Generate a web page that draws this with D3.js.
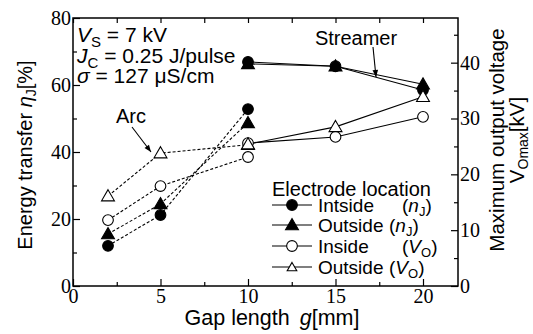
<!DOCTYPE html>
<html lang="en">
<head>
<meta charset="utf-8">
<title>Energy transfer vs gap length</title>
<script src="https://d3js.org/d3.v7.min.js"></script>
<style>
  body { margin: 0; background: #fff; }
  svg text { font-family: "Liberation Sans", Arial, sans-serif; fill: #000; }
  .tick text { font-family: "Liberation Serif", "Times New Roman", serif; font-size: 20px; }
  .axis path { stroke: none; }
  .axis line { stroke: #000; stroke-width: 1.2; }
</style>
</head>
<body>
<script>
// gap length [mm] for the two discharge regimes
const gapArc = [2, 5, 10];
const gapStreamer = [10, 15, 20];

// energy transfer eta_J [%] (left axis)
const etaInsideArc = [12, 21.2, 52.8];
const etaOutsideArc = [15.5, 24.5, 48.7];
const etaInsideStreamer = [66.9, 65.6, 58.5];
const etaOutsideStreamer = [66.3, 65.6, 60.2];

// maximum output voltage V_Omax [kV] (right axis)
const voInsideArc = [11.8, 17.9, 23.1];
const voOutsideArc = [16.1, 23.8, 25.3];
const voInsideStreamer = [25.6, 26.7, 30.3];
const voOutsideStreamer = [25.4, 28.5, 33.9];

// tick values
const xTicks = [0, 5, 10, 15, 20];
const xMinor = [2.5, 7.5, 12.5, 17.5];
const yLTicks = [0, 20, 40, 60, 80];
const yLMinor = [10, 30, 50, 70];
const yRTicks = [0, 10, 20, 30, 40];
const yRMinor = [5, 15, 25, 35, 45];

const W = 533, H = 334;
const pL = 73, pR = 458, pT = 18, pB = 286;

const svg = d3.select("body").append("svg")
  .attr("width", W).attr("height", H);

const x = d3.scaleLinear().domain([0, 22]).range([pL, pR]);
const yL = d3.scaleLinear().domain([0, 80]).range([pB, pT]);
const yR = d3.scaleLinear().domain([0, 48]).range([pB, pT]);

// axes, ticks pointing inward
svg.append("g").attr("class", "axis")
  .attr("transform", `translate(0,${pB})`)
  .call(d3.axisBottom(x).tickValues(xTicks).tickSizeInner(-7).tickSizeOuter(0).tickPadding(3));
svg.append("g").attr("class", "axis")
  .attr("transform", `translate(0,${pB})`)
  .call(d3.axisBottom(x).tickValues(xMinor).tickSizeInner(-4).tickSizeOuter(0).tickFormat(""));
svg.append("g").attr("class", "axis")
  .attr("transform", `translate(0,${pT})`)
  .call(d3.axisTop(x).tickValues(xTicks.concat(xMinor)).tickSizeInner(-5).tickSizeOuter(0).tickFormat(""));

svg.append("g").attr("class", "axis")
  .attr("transform", `translate(${pL},0)`)
  .call(d3.axisLeft(yL).tickValues(yLTicks).tickSizeInner(-7).tickSizeOuter(0).tickPadding(2));
svg.append("g").attr("class", "axis")
  .attr("transform", `translate(${pL},0)`)
  .call(d3.axisLeft(yL).tickValues(yLMinor).tickSizeInner(-4).tickSizeOuter(0).tickFormat(""));

svg.append("g").attr("class", "axis")
  .attr("transform", `translate(${pR},0)`)
  .call(d3.axisRight(yR).tickValues(yRTicks).tickSizeInner(-7).tickSizeOuter(0).tickPadding(2));
svg.append("g").attr("class", "axis")
  .attr("transform", `translate(${pR},0)`)
  .call(d3.axisRight(yR).tickValues(yRMinor).tickSizeInner(-4).tickSizeOuter(0).tickFormat(""));

// plot frame
svg.append("rect")
  .attr("x", pL).attr("y", pT)
  .attr("width", pR - pL).attr("height", pB - pT)
  .attr("fill", "none").attr("stroke", "#000").attr("stroke-width", 1.5);

// series
const series = [
  { gx: gapArc, v: etaInsideArc, y: yL, dash: "3,2", sym: "circle", fill: "#000" },
  { gx: gapArc, v: etaOutsideArc, y: yL, dash: "3,2", sym: "triangle", fill: "#000" },
  { gx: gapArc, v: voInsideArc, y: yR, dash: "3,2", sym: "circle", fill: "#fff" },
  { gx: gapArc, v: voOutsideArc, y: yR, dash: "3,2", sym: "triangle", fill: "#fff" },
  { gx: gapStreamer, v: etaInsideStreamer, y: yL, dash: null, sym: "circle", fill: "#000" },
  { gx: gapStreamer, v: etaOutsideStreamer, y: yL, dash: null, sym: "triangle", fill: "#000" },
  { gx: gapStreamer, v: voInsideStreamer, y: yR, dash: null, sym: "circle", fill: "#fff" },
  { gx: gapStreamer, v: voOutsideStreamer, y: yR, dash: null, sym: "triangle", fill: "#fff" }
];

const symPath = {
  circle: d3.symbol().type(d3.symbolCircle).size(90),
  triangle: d3.symbol().type(d3.symbolTriangle).size(72)
};

series.forEach(s => {
  const pts = s.gx.map((g, i) => [g, s.v[i]]);
  svg.append("path")
    .datum(pts)
    .attr("fill", "none").attr("stroke", "#000").attr("stroke-width", 1.1)
    .attr("stroke-dasharray", s.dash)
    .attr("d", d3.line().x(d => x(d[0])).y(d => s.y(d[1])));
});
series.forEach(s => {
  const pts = s.gx.map((g, i) => [g, s.v[i]]);
  svg.selectAll(null).data(pts).enter().append("path")
    .attr("transform", d => `translate(${x(d[0])},${s.y(d[1]) + (s.sym === "triangle" ? 1 : 0)})`)
    .attr("d", symPath[s.sym]())
    .attr("fill", s.fill).attr("stroke", "#000").attr("stroke-width", 1.1);
});

// arrow marker
svg.append("defs").append("marker")
  .attr("id", "arr").attr("viewBox", "0 0 10 10")
  .attr("refX", 10).attr("refY", 5)
  .attr("markerWidth", 9).attr("markerHeight", 7)
  .attr("markerUnits", "userSpaceOnUse")
  .attr("orient", "auto")
  .append("path").attr("d", "M0,1 L10,5 L0,9 Z").attr("fill", "#000");

// annotations
svg.append("text").attr("x", 356).attr("y", 45).attr("text-anchor", "middle")
  .style("font-size", "20px").text("Streamer");
svg.append("line").attr("x1", 373).attr("y1", 47).attr("x2", 376).attr("y2", 77)
  .attr("stroke", "#000").attr("stroke-width", 1.1).attr("marker-end", "url(#arr)");

svg.append("text").attr("x", 131).attr("y", 123).attr("text-anchor", "middle")
  .style("font-size", "20px").text("Arc");
svg.append("line").attr("x1", 132).attr("y1", 127).attr("x2", 151).attr("y2", 152)
  .attr("stroke", "#000").attr("stroke-width", 1.1).attr("marker-end", "url(#arr)");

// condition box
const cond = svg.append("g").style("font-size", "21px");
let t = cond.append("text").attr("x", 77).attr("y", 42);
t.append("tspan").style("font-style", "italic").text("V");
t.append("tspan").attr("dy", 5).style("font-size", "15px").text("S");
t.append("tspan").attr("dy", -5).text(" = 7 kV");
t = cond.append("text").attr("x", 77).attr("y", 63);
t.append("tspan").style("font-style", "italic").text("J");
t.append("tspan").attr("dy", 5).style("font-size", "15px").text("C");
t.append("tspan").attr("dy", -5).text(" = 0.25 J/pulse");
t = cond.append("text").attr("x", 77).attr("y", 83);
t.append("tspan").style("font-style", "italic").text("σ");
t.append("tspan").text(" = 127 μS/cm");

// legend
const lg = svg.append("g").style("font-size", "19px");
lg.append("text").attr("x", 272).attr("y", 196).style("font-size", "20px").text("Electrode location");
const legRows = [
  { name: "Intside", sym: "circle", fill: "#000", v: "n", sub: "J", tab: true },
  { name: "Outside", sym: "triangle", fill: "#000", v: "n", sub: "J", tab: false },
  { name: "Inside", sym: "circle", fill: "#fff", v: "V", sub: "O", tab: true },
  { name: "Outside", sym: "triangle", fill: "#fff", v: "V", sub: "O", tab: false }
];
const legY = [205, 225, 246, 267];
legRows.forEach((r, i) => {
  const cy = legY[i];
  lg.append("line").attr("x1", 272).attr("x2", 312).attr("y1", cy).attr("y2", cy)
    .attr("stroke", "#000").attr("stroke-width", 1.1);
  lg.append("path")
    .attr("transform", `translate(292,${cy + (r.sym === "triangle" ? 1 : 0)})`)
    .attr("d", (r.fill === "#fff" && r.sym === "triangle")
      ? d3.symbol().type(d3.symbolTriangle).size(40)()
      : symPath[r.sym]())
    .attr("fill", r.fill).attr("stroke", "#000").attr("stroke-width", 1.1);
  lg.append("text").attr("x", 318).attr("y", cy + 7).text(r.name);
  const p = lg.append("text").attr("x", r.tab ? 402 : 389).attr("y", cy + 7);
  p.append("tspan").text("(");
  p.append("tspan").style("font-style", "italic").text(r.v);
  p.append("tspan").attr("dy", 4).style("font-size", "13px").text(r.sub);
  p.append("tspan").attr("dy", -4).text(")");
});

// axis titles
const xt = svg.append("text").attr("x", 272).attr("y", 325).attr("text-anchor", "middle")
  .style("font-size", "21.5px");
xt.append("tspan").text("Gap length");
xt.append("tspan").attr("dx", 10).style("font-style", "italic").text("g");
xt.append("tspan").text("[mm]");

const ylt = svg.append("text").attr("transform", "translate(32,155) rotate(-90)")
  .attr("text-anchor", "middle").style("font-size", "20px");
ylt.append("tspan").text("Energy transfer ");
ylt.append("tspan").style("font-style", "italic").text("η");
ylt.append("tspan").attr("dy", 4).style("font-size", "14px").text("J");
ylt.append("tspan").attr("dy", -4).text("[%]");

svg.append("text").attr("transform", "translate(504,140) rotate(-90)")
  .attr("text-anchor", "middle").style("font-size", "20.5px").text("Maximum output voltage");
const yrt = svg.append("text").attr("transform", "translate(524,140) rotate(-90)")
  .attr("text-anchor", "middle").style("font-size", "20.5px");
yrt.append("tspan").text("V");
yrt.append("tspan").attr("dy", 4).style("font-size", "14px").text("Omax");
yrt.append("tspan").attr("dy", -4).text("[kV]");
</script>
</body>
</html>
